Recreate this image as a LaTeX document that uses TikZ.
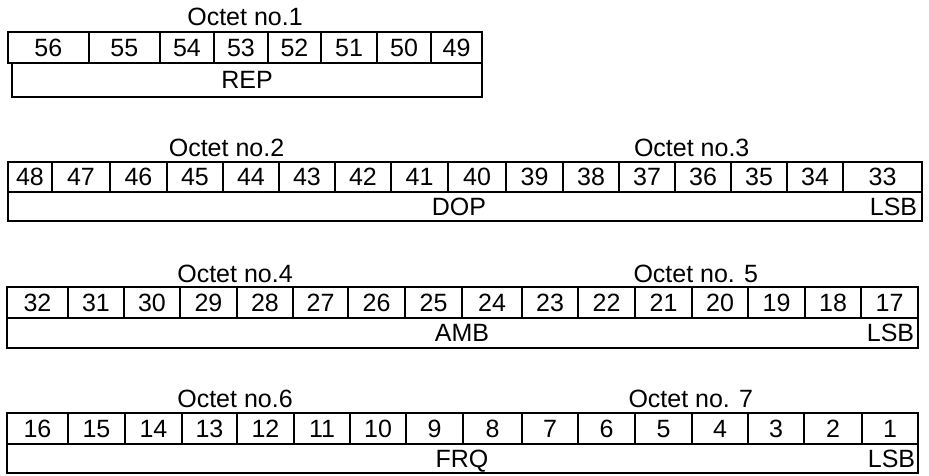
\documentclass[tikz,border=0pt]{standalone}
\usepackage{fontspec}
\setmainfont{Liberation Sans}
\begin{document}
\begin{tikzpicture}[x=1pt,y=-1pt,line width=1.8pt,
  lbl/.style={font=\fontsize{25}{29}\selectfont,inner sep=0pt,text height=17.9pt,text depth=0pt},
  hdr/.style={lbl,anchor=base},
  cellbox/.style={draw=black,line width=1.8pt}]
\useasboundingbox (0,0) rectangle (929,476);
% ---------- Octet 1 ----------
\node[hdr] (o1) at (245,26) {Octet no.1};
\foreach \l/\r/\t in {8/88.7/56,88.7/160/55,160/214/54,214/268/53,268/321/52,321/377/51,377/431/50,431/482/49}{
  \draw[cellbox] (\l,32) rectangle (\r,63);
  \node[lbl] (b\t) at ({(\l+\r)/2},47.5) {\t};
}
\draw[cellbox] (12,63) rectangle (482,97);
\node[lbl] (rep) at (247,80) {REP};
% ---------- Octets 2,3 ----------
\node[hdr] (o2) at (226.5,157) {Octet no.2};
\node[hdr] (o3) at (691.7,157) {Octet no.3};
\foreach \l/\r/\t in {8/52/48,52/110/47,110/167/46,167/223/45,223/279/44,279/335/43,335/391/42,391/448/41,448/506/40,506/563/39,563/619/38,619/675/37,675/731/36,731/787/35,787/843/34,843/922/33}{
  \draw[cellbox] (\l,162) rectangle (\r,192);
  \node[lbl] (b\t) at ({(\l+\r)/2},177) {\t};
}
\draw[cellbox] (8,192) rectangle (922,221);
\node[lbl] (dop) at (459,207) {DOP};
\node[lbl,anchor=east] (lsb1) at (918,207) {LSB};
% ---------- Octets 4,5 ----------
\node[hdr] (o4) at (235,282) {Octet no.4};
\node[hdr] (o5) at (695.8,282) {Octet no. 5};
\foreach \l/\r/\t in {7/68/32,68/124/31,124/180/30,180/237/29,237/293/28,293/348/27,348/405/26,405/462/25,462/522/24,522/578/23,578/635/22,635/692/21,692/748/20,748/805/19,805/861/18,861/918/17}{
  \draw[cellbox] (\l,287) rectangle (\r,318);
  \node[lbl] (b\t) at ({(\l+\r)/2},302.5) {\t};
}
\draw[cellbox] (7,318) rectangle (918,348);
\node[lbl] (amb) at (462,333) {AMB};
\node[lbl,anchor=east] (lsb2) at (915,333) {LSB};
% ---------- Octets 6,7 ----------
\node[hdr] (o6) at (235,407) {Octet no.6};
\node[hdr] (o7) at (690.8,407) {Octet no. 7};
\foreach \l/\r/\t in {7/68/16,68/125/15,125/182/14,182/237/13,237/294/12,294/350/11,350/406/10,406/463/9,463/522/8,522/578/7,578/635/6,635/692/5,692/748/4,748/804/3,804/862/2,862/918/1}{
  \draw[cellbox] (\l,413) rectangle (\r,444);
  \node[lbl] (b\t) at ({(\l+\r)/2},428.5) {\t};
}
\draw[cellbox] (7,444) rectangle (918,473);
\node[lbl] (frq) at (462,458.5) {FRQ};
\node[lbl,anchor=east] (lsb3) at (916,458.5) {LSB};
\end{tikzpicture}
\end{document}
